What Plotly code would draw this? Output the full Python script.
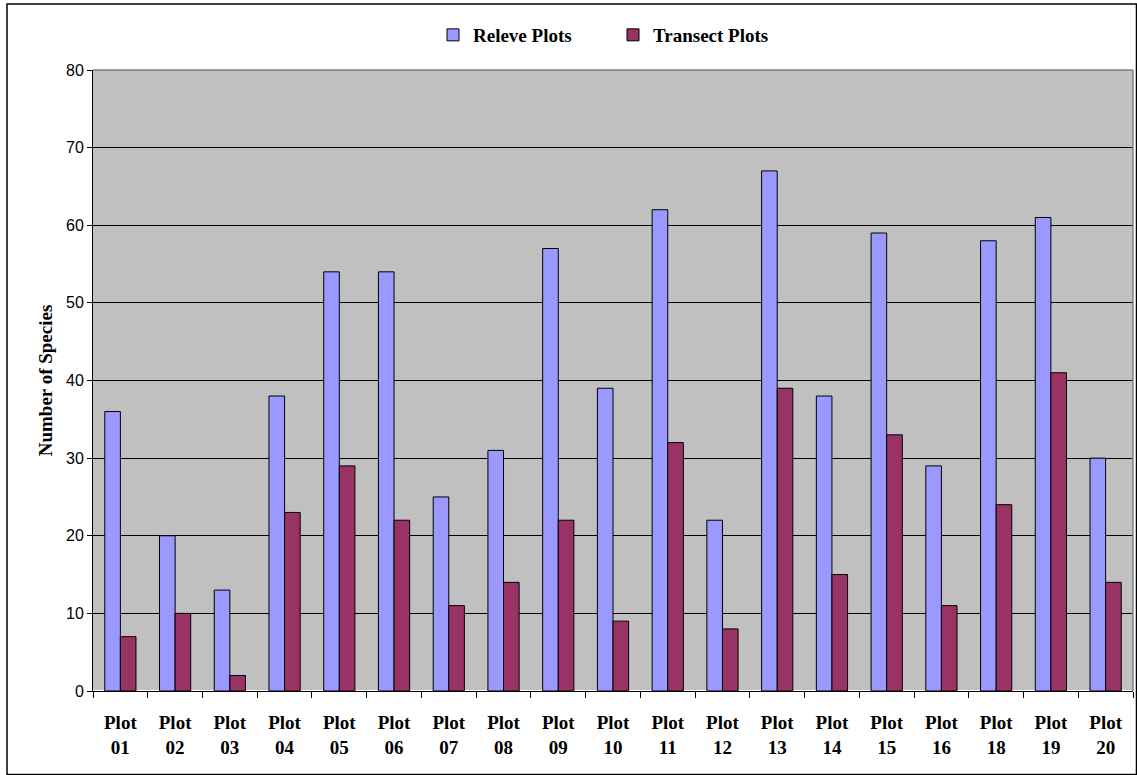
import plotly.graph_objects as go

categories = ["Plot<br>01", "Plot<br>02", "Plot<br>03", "Plot<br>04", "Plot<br>05", "Plot<br>06",
              "Plot<br>07", "Plot<br>08", "Plot<br>09", "Plot<br>10", "Plot<br>11", "Plot<br>12",
              "Plot<br>13", "Plot<br>14", "Plot<br>15", "Plot<br>16", "Plot<br>18", "Plot<br>19",
              "Plot<br>20"]
releve = [36, 20, 13, 38, 54, 54, 25, 31, 57, 39, 62, 22, 67, 38, 59, 29, 58, 61, 30]
transect = [7, 10, 2, 23, 29, 22, 11, 14, 22, 9, 32, 8, 39, 15, 33, 11, 24, 41, 14]
y_ticks = [0, 10, 20, 30, 40, 50, 60, 70, 80]

W, H = 1137, 775
L, R, T, B = 93, 1133, 70, 691

fig = go.Figure()
fig.add_trace(go.Bar(x=categories, y=releve, name="<b>Releve Plots</b>",
                     marker=dict(color="#9999FF", line=dict(color="black", width=1))))
fig.add_trace(go.Bar(x=categories, y=transect, name="<b>Transect Plots</b>",
                     marker=dict(color="#993366", line=dict(color="black", width=1))))

def px(x):
    return (x - L) / (R - L)

def py(y):
    return (B - y) / (B - T)

fig.update_layout(
    width=W, height=H,
    margin=dict(l=L, r=W - R, t=T, b=H - B),
    paper_bgcolor="white",
    plot_bgcolor="#C0C0C0",
    barmode="group",
    bargap=0.43,
    bargroupgap=0,
    font=dict(family="Liberation Serif", color="black"),
    legend=dict(orientation="h", x=0.5, xanchor="center", y=py(35), yanchor="middle",
                font=dict(family="Liberation Serif", size=19, color="black"),
                traceorder="normal", itemwidth=30, entrywidth=135, entrywidthmode="pixels"),
    xaxis=dict(showline=True, linecolor="black", linewidth=1,
               ticks="outside", ticklen=6, tickcolor="black", tickson="boundaries",
               ticklabelstandoff=14,
               tickfont=dict(family="Liberation Serif", size=19, color="black", weight="bold"),
               showgrid=False),
    yaxis=dict(range=[0, 80], tickvals=y_ticks, showline=True, linecolor="black", linewidth=1,
               ticks="outside", ticklen=5, tickcolor="black",
               tickfont=dict(family="Liberation Sans", size=16, color="black"),
               showgrid=True, gridcolor="black", gridwidth=1,
               title=dict(text="<b>Number of Species</b>", standoff=8,
                          font=dict(family="Liberation Serif", size=19, color="black"))),
    shapes=[
        dict(type="line", xref="paper", yref="paper", x0=0, x1=1, y0=1, y1=1,
             line=dict(color="#808080", width=1.5), layer="above"),
        dict(type="line", xref="paper", yref="paper", x0=1, x1=1, y0=0, y1=1,
             line=dict(color="#808080", width=1.5), layer="above"),
        dict(type="rect", xref="paper", yref="paper", x0=px(7), x1=px(1136.5), y0=py(4), y1=py(774.5),
             line=dict(color="black", width=1.5), fillcolor="rgba(0,0,0,0)", layer="above"),
    ],
)

fig.write_html("out.html", config={"displayModeBar": False},
               post_script="document.body.style.margin='0';document.body.style.overflow='hidden';")
